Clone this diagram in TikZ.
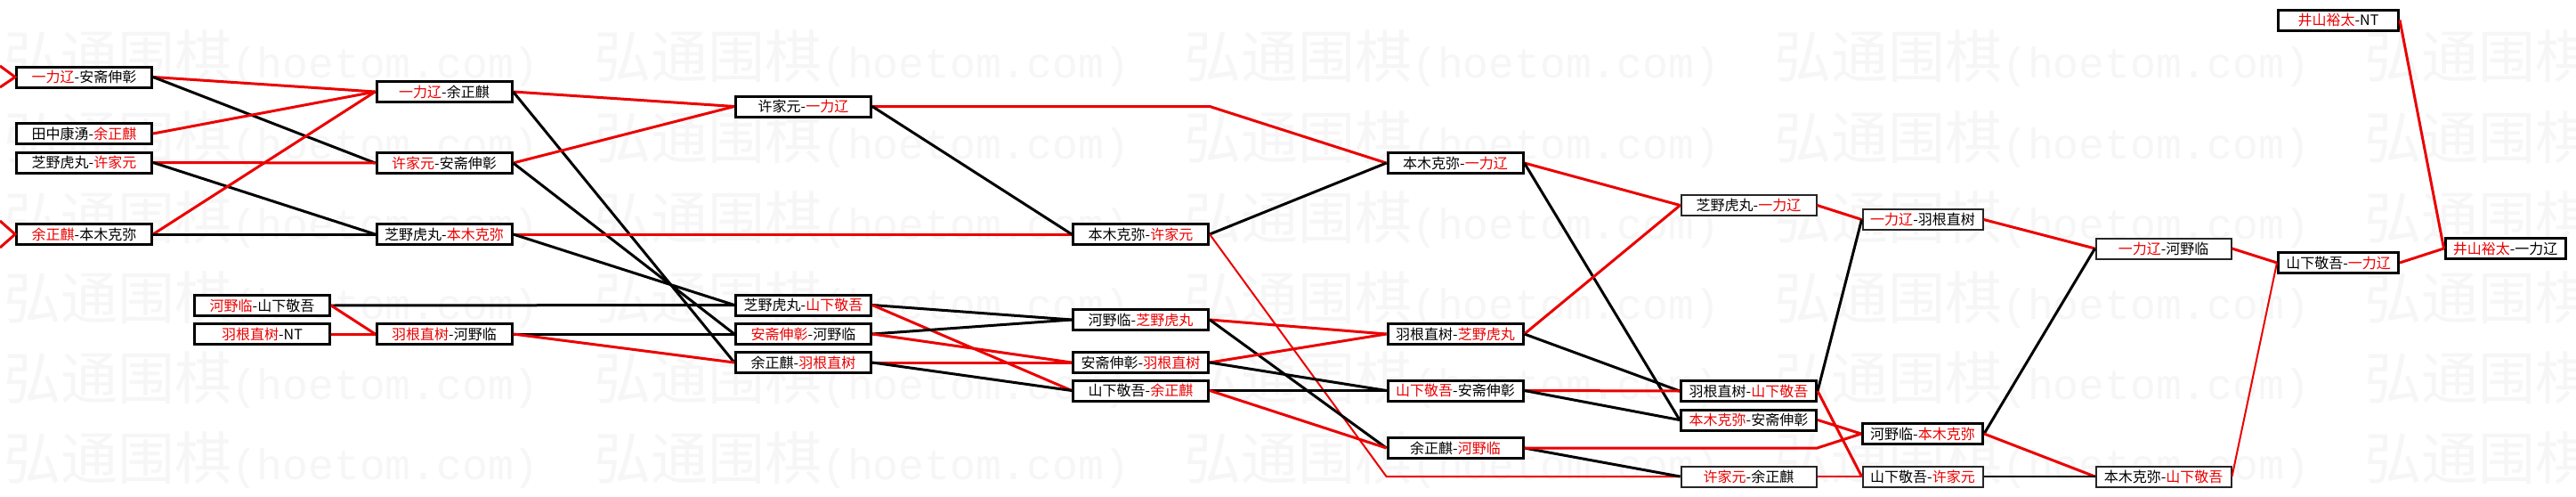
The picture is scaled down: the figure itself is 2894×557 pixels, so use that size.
\documentclass[tikz,border=0pt]{standalone}
\usepackage{fontspec}
\newfontfamily\cjk{Noto Sans CJK SC}
\newfontfamily\wmlatin{Liberation Mono}
\definecolor{wr}{RGB}{235,0,0}
\definecolor{wm}{RGB}{246,246,246}
\newcommand\W[1]{\textcolor{wr}{#1}}
\tikzset{
  match/.style={draw=black, line width=3pt, fill=white, inner sep=0pt,
    minimum width=#1, minimum height=23pt,
    font=\cjk\fontsize{16}{18}\selectfont, text=black},
  match/.default=152pt,
  lightbox/.style={line width=2pt, draw=black!85},
  win/.style={draw=wr, line width=3pt},
  lose/.style={draw=black, line width=3pt},
  thinline/.style={line width=2pt},
  wmark/.style={anchor=west, inner sep=0pt, text=wm}
}
\begin{document}
\begin{tikzpicture}[x=1pt,y=-1pt]
\useasboundingbox (0,0) rectangle (2894,557);
\fill[white] (0,0) rectangle (2894,557);
% watermark
\foreach \r in {0,...,5}{
  \foreach \c in {0,...,4}{
    \node[wmark] at (4+663*\c, 66+90.2*\r) {\cjk\fontsize{64}{64}\selectfont 弘通围棋\wmlatin\fontsize{48}{48}\selectfont(hoetom.com)};
  }
}
% round A
\node[match] (A1) at (94.5,86.5) {\W{一力辽}-安斋伸彰};
\node[match] (A2) at (94.5,150) {田中康湧-\W{余正麒}};
\node[match] (A3) at (94.5,182.5) {芝野虎丸-\W{许家元}};
\node[match] (A4) at (94.5,263) {\W{余正麒}-本木克弥};
\node[match] (A5) at (294.5,343) {\W{河野临}-山下敬吾};
\node[match] (A6) at (294.5,375) {\W{羽根直树}-NT};
% round B
\node[match] (B1) at (499,103) {\W{一力辽}-余正麒};
\node[match] (B2) at (499,183) {\W{许家元}-安斋伸彰};
\node[match] (B3) at (499,263) {芝野虎丸-\W{本木克弥}};
\node[match] (B4) at (499,375) {\W{羽根直树}-河野临};
% round C
\node[match] (C1) at (902.5,119.5) {许家元-\W{一力辽}};
\node[match] (C2) at (902.5,342.5) {芝野虎丸-\W{山下敬吾}};
\node[match] (C3) at (902.5,375) {\W{安斋伸彰}-河野临};
\node[match] (C4) at (902.5,407) {余正麒-\W{羽根直树}};
% round D
\node[match] (D2) at (1281.5,263) {本木克弥-\W{许家元}};
\node[match] (D3) at (1281.5,359) {河野临-\W{芝野虎丸}};
\node[match] (D4) at (1281.5,407) {安斋伸彰-\W{羽根直树}};
\node[match] (D5) at (1281.5,438.5) {山下敬吾-\W{余正麒}};
% round E
\node[match] (E1) at (1635,183) {本木克弥-\W{一力辽}};
\node[match] (E2) at (1635,375) {羽根直树-\W{芝野虎丸}};
\node[match] (E3) at (1635,438.5) {\W{山下敬吾}-安斋伸彰};
\node[match] (E4) at (1635,503) {余正麒-\W{河野临}};
% round F
\node[match, lightbox] (F1) at (1964.5,230.5) {芝野虎丸-\W{一力辽}};
\node[match] (F2) at (1964.5,439) {羽根直树-\W{山下敬吾}};
\node[match] (F3) at (1964.5,471.5) {\W{本木克弥}-安斋伸彰};
\node[match, lightbox] (F4) at (1964.5,535) {\W{许家元}-余正麒};
% round G
\node[match=135pt, lightbox] (G1) at (2160,246.5) {\W{一力辽}-羽根直树};
\node[match=135pt] (G2) at (2160,487) {河野临-\W{本木克弥}};
\node[match=135pt, lightbox] (G3) at (2160,535) {山下敬吾-\W{许家元}};
% round H
\node[match, lightbox] (H1) at (2430.5,279) {\W{一力辽}-河野临};
\node[match, lightbox] (H2) at (2430.5,535) {本木克弥-\W{山下敬吾}};
% round I, J
\node[match=135pt] (I1) at (2627,295) {山下敬吾-\W{一力辽}};
\node[match=135pt] (J0) at (2627,22.5) {\W{井山裕太}-NT};
\node[match=135pt] (J1) at (2814.5,279) {\W{井山裕太}-一力辽};
% incoming free ends
\coordinate (inA1a) at (0,74);
\coordinate (inA1b) at (0,98);
\coordinate (inA4a) at (0,248);
\coordinate (inA4b) at (0,278);
\draw[win] (inA1a) -- (A1.west) -- (inA1b);
\draw[win] (inA4a) -- (A4.west) -- (inA4b);
% A -> B
\draw[win] (A1.east) -- (B1.west);
\draw[lose] (A1.east) -- (B2.west);
\draw[win] (A2.east) -- (B1.west);
\draw[win] (A3.east) -- (B2.west);
\draw[lose] (A3.east) -- (B3.west);
\draw[win] (A4.east) -- (B1.west);
\draw[lose] (A4.east) -- (B3.west);
\draw[lose] (A5.east) -- (C2.west);
\draw[win] (A5.east) -- (B4.west);
\draw[win] (A6.east) -- (B4.west);
% B -> C
\draw[win] (B1.east) -- (C1.west);
\draw[lose] (B1.east) -- (C4.west);
\draw[win] (B2.east) -- (C1.west);
\draw[lose] (B2.east) -- (C3.west);
\draw[win] (B3.east) -- (D2.west);
\draw[lose] (B3.east) -- (C2.west);
\draw[lose] (B4.east) -- (C3.west);
\draw[win] (B4.east) -- (C4.west);
% C -> D/E
\draw[win] (C1.east) -- (C1.east -| D2.east) -- (E1.west);
\draw[lose] (C1.east) -- (D2.west);
\draw[lose] (C2.east) -- (D3.west);
\draw[win] (C2.east) -- (D5.west);
\draw[lose] (C3.east) -- (D3.west);
\draw[win] (C3.east) -- (D4.west);
\draw[win] (C4.east) -- (D4.west);
\draw[lose] (C4.east) -- (D5.west);
% D -> E/F
\draw[lose] (D2.east) -- (E1.west);
\draw[win, thinline] (D2.east) -- (E4.west |- F4.west) -- (F4.west);
\draw[win] (D3.east) -- (E2.west);
\draw[lose] (D3.east) -- (E4.west);
\draw[win] (D4.east) -- (E2.west);
\draw[lose] (D4.east) -- (E3.west);
\draw[lose] (D5.east) -- (E3.west);
\draw[win] (D5.east) -- (E4.west);
% E -> F/G
\draw[win] (E1.east) -- (F1.west);
\draw[lose] (E1.east) -- (F3.west);
\draw[win] (E2.east) -- (F1.west);
\draw[lose] (E2.east) -- (F2.west);
\draw[win] (E3.east) -- (F2.west);
\draw[lose] (E3.east) -- (F3.west);
\draw[lose] (E4.east) -- (F4.west);
\draw[win] (E4.east) -- (F4.east |- E4.east) -- (G2.west);
% F -> G
\draw[win] (F1.east) -- (G1.west);
\draw[lose] (F2.east) -- (G1.west);
\draw[win] (F2.east) -- (G3.west);
\draw[win] (F3.east) -- (G2.west);
\draw[win, thinline] (F4.east) -- (G3.west);
% G -> H
\draw[win] (G1.east) -- (H1.west);
\draw[lose] (G2.east) -- (H1.west);
\draw[win] (G2.east) -- (H2.west);
\draw[lose, thinline] (G3.east) -- (H2.west);
% H -> I -> J
\draw[win] (H1.east) -- (I1.west);
\draw[win, thinline] (H2.east) -- (I1.west);
\draw[win] (I1.east) -- (J1.west);
\draw[win] (J0.east) -- (J1.west);
\end{tikzpicture}
\end{document}
